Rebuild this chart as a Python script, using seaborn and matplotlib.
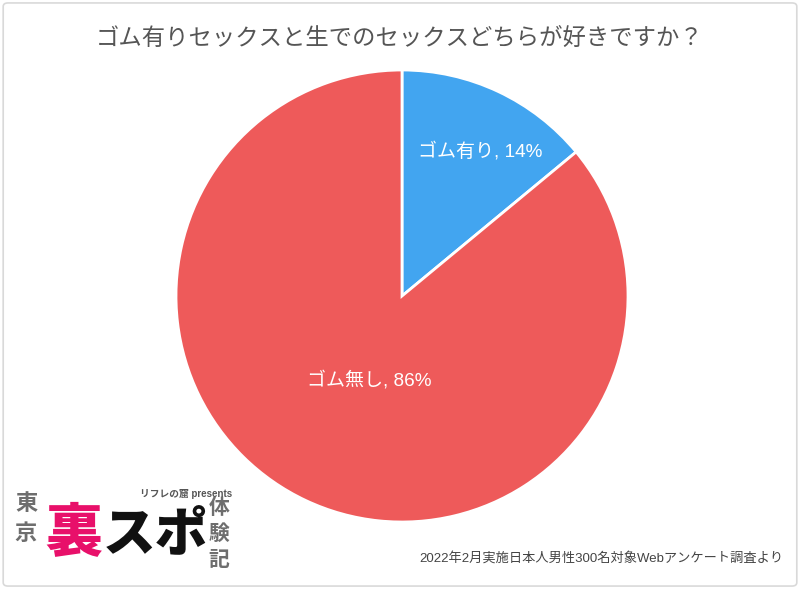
import matplotlib
matplotlib.use("Agg")
import matplotlib.pyplot as plt
import seaborn as sns
import numpy as np
from matplotlib.patches import FancyBboxPatch

sns.set_theme(style="white")
plt.rcParams['font.family'] = ['Liberation Sans', 'Noto Sans CJK JP']

title = "ゴム有りセックスと生でのセックスどちらが好きですか？"
categories = ["ゴム有り", "ゴム無し"]
values = [14, 86]
colors = ["#42A5F0", "#EE5A5A"]
footer = "2022年2月実施日本人男性300名対象Webアンケート調査より"

fig = plt.figure(figsize=(8, 5.89), dpi=100)
fig.patch.set_facecolor("white")

# border
border = FancyBboxPatch((0.004, 0.005), 0.992, 0.99, boxstyle="round,pad=0,rounding_size=0.006",
                        transform=fig.transFigure, facecolor="none", edgecolor="#d9d9d9", lw=1.2)
fig.patches.append(border)

w = 452 / 800
h = 452 / 589
cx, cy = 402 / 800, 1 - 296 / 589
ax = fig.add_axes([cx - w / 2, cy - h / 2, w, h])
wedges, _ = ax.pie(values, colors=colors, startangle=90, counterclock=False,
                   wedgeprops=dict(edgecolor="white", linewidth=2))
ax.set_xlim(-1, 1)
ax.set_ylim(-1, 1)
ax.set_aspect("equal")
ax.axis("off")

# labels
dists = [0.73, 0.40]
angle_adj = [-3, 4]
for wdg, cat, val, d, adj in zip(wedges, categories, values, dists, angle_adj):
    ang = np.deg2rad((wdg.theta1 + wdg.theta2) / 2 + adj)
    ax.text(d * np.cos(ang), d * np.sin(ang), f"{cat}, {val}%", color="white",
            ha="center", va="center", fontsize=13.7)

fig.text(0.5, 1 - 38 / 589, title, ha="center", va="center", fontsize=16.8, color="#555555")
fig.text(783 / 800, 1 - 558 / 589, footer, ha="right", va="center", fontsize=9.5, color="#444444")

# logo
fig.text(26 / 800, 1 - 505 / 589, "東", ha="center", va="center", fontsize=16, color="#6e6e6e", fontweight="bold")
fig.text(26 / 800, 1 - 535 / 589, "京", ha="center", va="center", fontsize=16, color="#6e6e6e", fontweight="bold")
fig.text(74 / 800, 1 - 536 / 589, "裏", ha="center", va="center", fontsize=41, color="#E8106A", fontweight="heavy")
fig.text(155 / 800, 1 - 536 / 589, "スポ", ha="center", va="center", fontsize=38, color="#111111", fontweight="heavy")
for i, ch in enumerate("体験記"):
    fig.text(219 / 800, 1 - (508 + i * 26) / 589, ch, ha="center", va="center", fontsize=15,
             color="#6e6e6e", fontweight="bold")
fig.text(186 / 800, 1 - 494 / 589, "リフレの窟 presents", ha="center", va="center", fontsize=7,
         color="#555555", fontweight="bold")

fig.savefig("out.png", dpi=100, facecolor="white")
